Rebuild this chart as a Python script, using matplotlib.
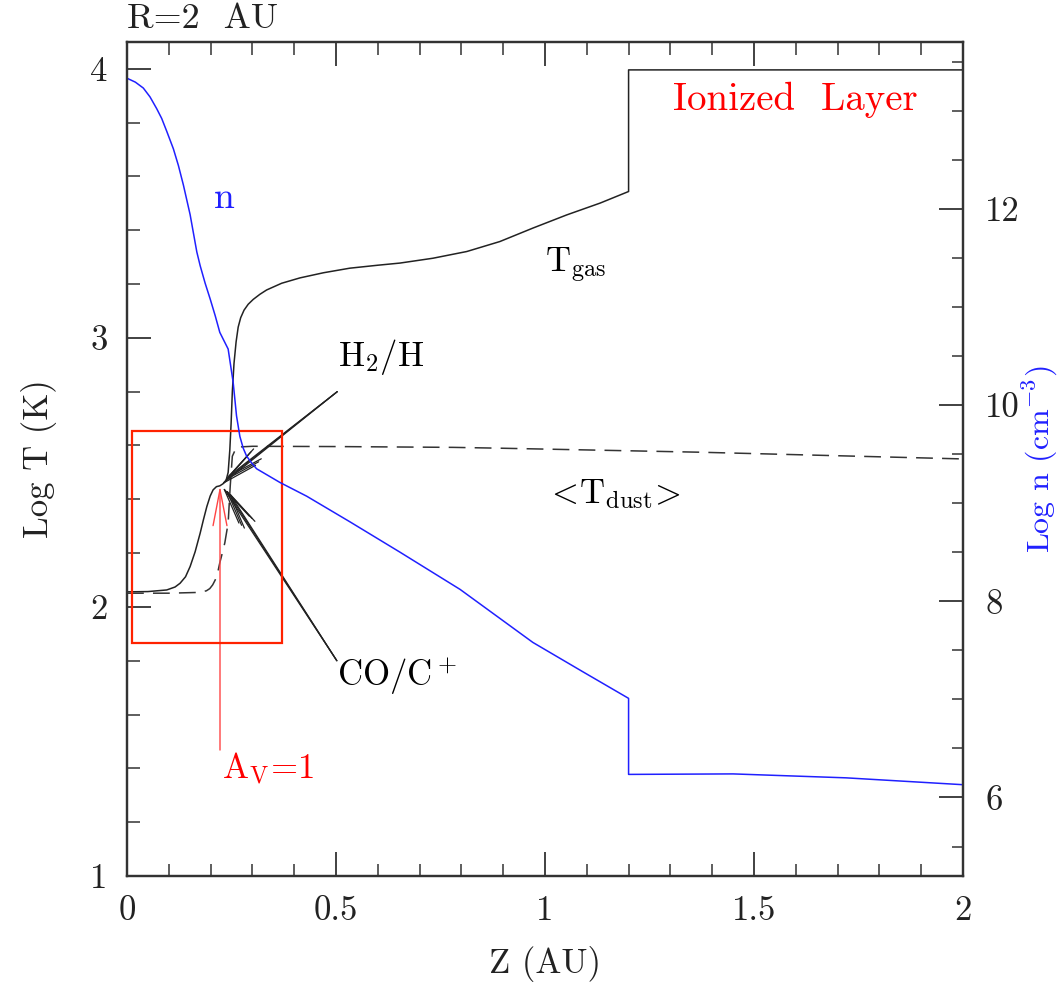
import matplotlib
matplotlib.use("Agg")
import matplotlib.pyplot as plt
from matplotlib.patches import Rectangle
from matplotlib.ticker import MultipleLocator, FormatStrFormatter

plt.rcParams['font.family'] = ['cmr10', 'DejaVu Serif']
plt.rcParams['mathtext.fontset'] = 'cm'
plt.rcParams['axes.formatter.use_mathtext'] = True
plt.rcParams['axes.unicode_minus'] = False

# density n (log cm^-3) vs height Z (AU)
z_n = [0.0, 0.020, 0.039, 0.055, 0.071, 0.083, 0.095, 0.111, 0.123, 0.135,
       0.151, 0.167, 0.175, 0.187, 0.199, 0.211, 0.222, 0.242, 0.254, 0.262,
       0.270, 0.278, 0.286, 0.298, 0.310, 0.366, 0.430, 0.533,
       0.653, 0.797, 0.971, 1.091, 1.2, 1.2, 1.45, 1.72, 2.0]
log_n = [13.33, 13.29, 13.23, 13.14, 13.02, 12.92, 12.79, 12.61, 12.44, 12.24,
         11.94, 11.56, 11.42, 11.24, 11.08, 10.91, 10.74, 10.57, 10.23, 9.89,
         9.68, 9.56, 9.48, 9.41, 9.35, 9.21, 9.07, 8.81,
         8.50, 8.12, 7.58, 7.28, 7.01, 6.235, 6.24, 6.20, 6.13]

# gas temperature
z_gas = [0.0, 0.05, 0.095, 0.115, 0.127, 0.140, 0.151, 0.163, 0.175, 0.183,
         0.191, 0.199, 0.206, 0.214, 0.222, 0.230, 0.237, 0.242, 0.246, 0.249,
         0.252, 0.256, 0.261, 0.266, 0.272, 0.280, 0.290, 0.302, 0.318, 0.334,
         0.37, 0.414, 0.47, 0.533, 0.60, 0.653, 0.732, 0.813, 0.892, 0.971,
         1.052, 1.132, 1.2, 1.2, 2.0]
log_tgas = [2.056, 2.057, 2.063, 2.074, 2.088, 2.112, 2.150, 2.205, 2.274, 2.325,
            2.373, 2.412, 2.435, 2.447, 2.450, 2.458, 2.470, 2.50, 2.584, 2.680,
            2.800, 2.905, 2.985, 3.040, 3.075, 3.103, 3.125, 3.143, 3.162, 3.178,
            3.203, 3.223, 3.242, 3.259, 3.270, 3.278, 3.296, 3.321, 3.358, 3.408,
            3.457, 3.501, 3.544, 3.996, 3.996]

# mean dust temperature
z_dust = [0.0, 0.1, 0.175, 0.190, 0.198, 0.205, 0.211, 0.217, 0.222, 0.228,
          0.234, 0.242, 0.247, 0.252, 0.262, 0.3, 0.5, 0.78, 0.89, 1.37, 2.0]
log_tdust = [2.051, 2.051, 2.054, 2.060, 2.068, 2.082, 2.10, 2.128, 2.164, 2.200,
             2.238, 2.312, 2.45, 2.56, 2.594, 2.597, 2.596, 2.593, 2.590, 2.575, 2.550]

# annotation anchors (Z, log T)
box_z = (0.011, 0.3715)
box_t = (1.867, 2.652)
h2_tail = (0.503, 2.80)
h2_tips = [(0.224, 2.452), (0.231, 2.466), (0.237, 2.478)]
co_tail = (0.502, 1.80)
co_tips = [(0.228, 2.448), (0.235, 2.440), (0.242, 2.430)]
av_z = 0.2225
av_t = (1.468, 2.45)

fig = plt.figure(figsize=(10.61, 9.84), dpi=100)
ax = fig.add_axes([0.1197, 0.1098, 0.7879, 0.8476])
ax2 = ax.twinx()

ax.plot(z_gas, log_tgas, color='#222222', lw=1.1)
ax.plot(z_dust, log_tdust, color='#333333', lw=1.1, dashes=(11, 6))
ax2.plot(z_n, log_n, color='#2020ff', lw=1.1)

ax.add_patch(Rectangle((box_z[0], box_t[0]), box_z[1] - box_z[0], box_t[1] - box_t[0],
                       fill=False, edgecolor='#ff2200', lw=1.6, zorder=5))

for tip in h2_tips:
    ax.annotate('', xy=tip, xytext=h2_tail,
                arrowprops=dict(arrowstyle='->,head_length=2.6,head_width=0.45',
                                color='#222222', lw=0.9, mutation_scale=10,
                                shrinkA=0, shrinkB=0))
for tip in co_tips:
    ax.annotate('', xy=tip, xytext=co_tail,
                arrowprops=dict(arrowstyle='->,head_length=2.6,head_width=0.45',
                                color='#222222', lw=0.9, mutation_scale=10,
                                shrinkA=0, shrinkB=0))
ax.annotate('', xy=(av_z, av_t[1]), xytext=(av_z, av_t[0]),
            arrowprops=dict(arrowstyle='->,head_length=2.6,head_width=0.5',
                            color='#ff4444', lw=1.0, mutation_scale=10,
                            shrinkA=0, shrinkB=0))

fs = 25
ax.text(0.0, 1.008, 'R=2  AU', transform=ax.transAxes, ha='left', va='bottom',
        fontsize=fs + 1, color='#222222')
ax.text(1.598, 3.885, 'Ionized  Layer', color='red', fontsize=fs + 3,
        ha='center', va='center')
ax.text(0.232, 3.52, 'n', color='#2020ff', fontsize=fs + 2, ha='center', va='center')
ax.text(1.0, 3.27, r'T$_{\rm gas}$', fontsize=fs, ha='left', va='center')
ax.text(1.0, 2.42, r'$<\!\mathrm{T}_{\rm dust}\!>$', fontsize=fs, ha='left', va='center')
ax.text(0.504, 2.93, r'H$_2$/H', fontsize=fs, ha='left', va='center')
ax.text(0.502, 1.74, r'CO/C$^+$', fontsize=fs, ha='left', va='center')
ax.text(0.2265, 1.40, r'A$_{\rm V}$=1', fontsize=fs, color='red', ha='left', va='center')

ax.set_xlim(0, 2)
ax.set_ylim(1, 4.1)
ax2.set_ylim(5.2, 13.7)

ax.xaxis.set_major_locator(MultipleLocator(0.5))
ax.xaxis.set_minor_locator(MultipleLocator(0.1))
ax.yaxis.set_major_locator(MultipleLocator(1))
ax.yaxis.set_minor_locator(MultipleLocator(0.2))
ax2.yaxis.set_major_locator(MultipleLocator(2))
ax2.yaxis.set_minor_locator(MultipleLocator(0.5))
ax.xaxis.set_major_formatter(FormatStrFormatter('%g'))
ax.yaxis.set_major_formatter(FormatStrFormatter('%g'))
ax2.yaxis.set_major_formatter(FormatStrFormatter('%g'))

ax.tick_params(which='both', direction='in', top=True, right=False, colors='#333333',
               labelcolor='#222222', labelsize=fs)
ax.tick_params(which='major', length=17, width=1.3, pad=14)
ax.tick_params(which='minor', length=9, width=1.1)
ax2.tick_params(which='both', direction='in', colors='#333333', labelcolor='#222222',
                labelsize=fs)
ax2.tick_params(which='major', length=17, width=1.3, pad=16)
ax2.tick_params(which='minor', length=8, width=1.1)

for a in (ax, ax2):
    for s in a.spines.values():
        s.set_linewidth(1.6)
        s.set_color('#333333')

ax.set_xlabel('Z (AU)', fontsize=fs, color='#222222', labelpad=14)
ax.set_ylabel('Log T (K)', fontsize=fs, color='#222222', labelpad=24)
ax2.set_ylabel(r'Log n (cm$^{-3}$)', fontsize=fs - 2, color='#2020ff', labelpad=1)

fig.savefig('out.png', dpi=100)
